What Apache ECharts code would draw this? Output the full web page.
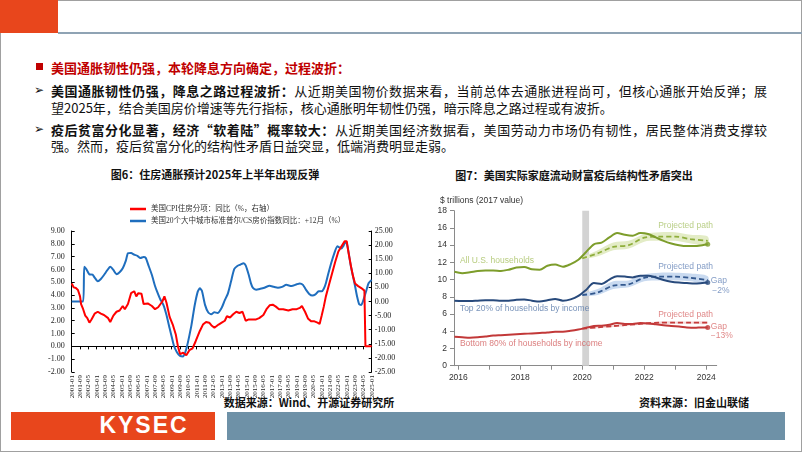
<!DOCTYPE html>
<html><head><meta charset="utf-8">
<script src="https://cdn.jsdelivr.net/npm/echarts@6/dist/echarts.min.js"></script>
<style>
body{margin:0;width:802px;height:452px;overflow:hidden;background:#fff;position:relative;font-family:"Noto Sans CJK SC",sans-serif;}
.a{position:absolute;}
#frame{left:0;top:0;width:800px;height:450px;border:1px solid #a0a0a0;}
#hdr{left:0;top:0;width:58px;height:33px;background:#E8461C;}
#hline{left:58px;top:32px;width:744px;height:2px;background:#8FA3B4;}
#sq{left:36px;top:63px;width:7px;height:7px;background:#C00000;}
.t{position:absolute;font-size:13px;line-height:17px;white-space:nowrap;color:#111;}
.j{width:716px;text-align:justify;text-align-last:justify;}
b{font-weight:700;}
.ar{position:absolute;font-size:12px;line-height:17px;left:34px;color:#111;font-family:"DejaVu Sans",sans-serif;}
.ttl{position:absolute;font-size:11px;font-weight:700;line-height:14px;white-space:nowrap;transform:translate(-50%,-50%);color:#111;}
#chart{position:absolute;left:0;top:0;width:802px;height:452px;}
</style></head>
<body>
<div id="frame" class="a"></div>
<div id="hdr" class="a"></div>
<div id="hline" class="a"></div>
<div id="sq" class="a"></div>
<div class="t" style="left:51px;top:58.5px;color:#C00000;font-weight:700;">美国通胀韧性仍强，本轮降息方向确定，过程波折：</div>
<div class="ar" style="top:81.5px;">➢</div>
<div class="t j" style="left:51px;top:81.5px;"><b>美国通胀韧性仍强，降息之路过程波折：</b>从近期美国物价数据来看，当前总体去通胀进程尚可，但核心通胀开始反弹；展</div>
<div class="t" style="left:51px;top:98.5px;">望2025年，结合美国房价增速等先行指标，核心通胀明年韧性仍强，暗示降息之路过程或有波折。</div>
<div class="ar" style="top:120.5px;">➢</div>
<div class="t j" style="left:51px;top:120.5px;"><b>疫后贫富分化显著，经济“软着陆”概率较大：</b>从近期美国经济数据看，美国劳动力市场仍有韧性，居民整体消费支撑较</div>
<div class="t" style="left:51px;top:136.5px;">强。然而，疫后贫富分化的结构性矛盾日益突显，低端消费明显走弱。</div>
<div class="ttl" style="left:215px;top:174px;">图6：住房通胀预计2025年上半年出现反弹</div>
<div class="ttl" style="left:574px;top:175px;">图7：美国实际家庭流动财富疫后结构性矛盾突出</div>
<div class="ttl" style="left:309px;top:402px;">数据来源：Wind、开源证券研究所</div>
<div class="ttl" style="left:694px;top:402px;">资料来源：旧金山联储</div>
<div class="a" style="left:11px;top:412px;width:204px;height:28px;background:#E8461C;"></div>
<div class="a" style="left:227px;top:412px;width:558px;height:28px;background:#6E91A7;"></div>
<div class="a" style="left:88px;top:412px;width:112px;height:28px;line-height:28px;color:#fff;font:bold 23px 'Liberation Sans',sans-serif;letter-spacing:2px;text-align:center;">KYSEC</div>
<div id="chart"></div>
<script>
// ---------- Figure 6 data ----------
const fig6TickLabels = ['2001-01','2001-09','2002-05','2003-01','2003-09','2004-05','2005-01','2005-09','2006-05','2007-01','2007-09','2008-05','2009-01','2009-09','2010-05','2011-01','2011-09','2012-05','2013-01','2013-09','2014-05','2015-01','2015-09','2016-05','2017-01','2017-09','2018-05','2019-01','2019-09','2020-05','2021-01','2021-09','2022-05','2023-01','2023-09','2024-05','2025-01'];
const cpiShelterDates = ['2001-01','2001-03','2001-05','2001-07','2001-09','2001-10','2001-12','2002-02','2002-04','2002-06','2002-08','2002-11','2003-02','2003-05','2003-08','2003-12','2004-02','2004-05','2004-08','2004-11','2005-02','2005-04','2005-07','2005-10','2006-01','2006-03','2006-05','2006-08','2006-10','2007-02','2007-06','2007-09','2007-12','2008-04','2008-06','2008-08','2008-11','2009-02','2009-05','2009-07','2009-09','2009-12','2010-03','2010-06','2010-09','2010-12','2011-04','2011-07','2011-10','2012-01','2012-03','2012-06','2012-10','2013-01','2013-04','2013-06','2013-09','2013-12','2014-03','2014-06','2014-09','2014-12','2015-03','2015-06','2015-10','2016-01','2016-05','2016-08','2016-11','2017-02','2017-05','2017-08','2017-12','2018-05','2018-09','2019-01','2019-04','2019-06','2019-09','2019-12','2020-03','2020-06','2020-09','2020-11','2021-01','2021-03','2021-05','2021-08','2021-11','2022-02','2022-05','2022-08','2022-11','2023-01','2023-03','2023-05','2023-07','2023-09','2023-12','2024-03','2024-06','2024-07','2025-01'];
const cpiShelterValues = [4.9,4.6,4.55,4.4,3.9,3.3,2.9,2.4,2.2,1.85,2.1,2.55,2.7,2.55,2.45,2.2,1.9,2.4,2.7,2.8,3.15,2.9,3.3,4.15,4.3,3.9,4.15,4.1,3.3,3.35,3.15,2.9,3.05,3.5,3.9,3.4,2.3,1.7,0.9,0.0,-0.6,-0.5,-0.7,-0.3,-0.15,0.4,1.2,1.7,1.9,1.85,1.65,1.45,1.7,1.85,2.0,2.35,2.25,2.5,2.7,2.6,2.7,2.0,2.1,2.1,2.1,2.2,2.45,2.9,3.2,3.25,3.1,2.9,2.9,2.8,2.9,2.9,3.0,3.15,2.7,2.15,1.95,1.95,1.85,1.75,2.4,3.1,3.9,4.8,5.7,6.6,7.4,7.8,8.2,8.2,7.2,6.3,5.5,4.9,4.7,4.55,4.35,0,0];
const csHomeDates = ['2001-01','2001-12','2002-01','2002-03','2002-06','2002-09','2002-11','2003-02','2003-05','2003-08','2003-11','2004-02','2004-05','2004-08','2004-11','2005-02','2005-05','2005-07','2005-10','2006-01','2006-04','2006-07','2006-10','2006-12','2007-03','2007-06','2007-09','2007-11','2008-02','2008-05','2008-08','2008-11','2009-01','2009-03','2009-06','2009-09','2009-12','2010-02','2010-04','2010-06','2010-08','2010-11','2011-02','2011-04','2011-06','2011-09','2011-12','2012-03','2012-06','2012-09','2013-01','2013-04','2013-07','2013-10','2014-01','2014-04','2014-07','2014-10','2014-12','2015-03','2015-05','2015-07','2015-10','2016-02','2016-06','2016-11','2017-03','2017-07','2017-11','2018-03','2018-08','2019-01','2019-04','2019-07','2019-10','2020-01','2020-04','2020-07','2020-10','2021-01','2021-03','2021-05','2021-07','2021-10','2022-01','2022-04','2022-06','2022-08','2022-10','2022-12','2023-01','2023-03','2023-05','2023-07','2023-09','2023-11','2024-01','2024-03','2024-05','2024-08','2024-10','2025-01'];
const csHomeValues = [0,0,12.3,11.5,9.6,9.5,8.5,7.2,8.0,9.4,11.0,12.3,11.2,9.7,10.4,11.8,14.5,17.1,17.2,16.6,16.2,15.4,15.8,15.5,12.5,9.4,5.5,3.5,0.8,-1.2,-4.8,-9.5,-12.5,-15.5,-18.0,-19.3,-19.5,-18.0,-15.4,-12.0,-8.3,-1.5,3.5,4.7,3.8,-1.2,-3.8,-4.5,-3.8,-4.1,-2.2,0.5,2.9,7.2,11.5,12.6,13.1,13.6,12.8,9.4,6.5,4.8,4.2,4.5,4.9,5.6,5.2,4.9,5.2,5.9,5.5,6.1,6.4,5.9,4.1,2.7,2.1,2.5,3.6,3.6,4.5,6.5,9.4,13.5,17.0,19.6,19.2,18.8,19.8,21.2,20.8,17.0,12.5,9.0,5.5,1.7,-1.0,-1.2,0.5,4.1,6.5,7.6];
const fig6Legend = ['美国CPI住房分项：同比（%，右轴）','美国20个大中城市标准普尔/CS房价指数同比：+12月（%）'];

// ---------- Figure 7 data ----------
const fig7LabelYears = [2016,2018,2020,2022,2024];
const fig7TickYears = [2016,2017,2018,2019,2020,2021,2022,2023,2024];
const wealthYears = [2015.875,2016.125,2016.375,2016.625,2016.875,2017.125,2017.375,2017.625,2017.875,2018.125,2018.375,2018.625,2018.875,2019.125,2019.375,2019.625,2019.875,2020.125,2020.375,2020.625,2020.875,2021.125,2021.375,2021.625,2021.875,2022.125,2022.375,2022.625,2022.875,2023.125,2023.375,2023.625,2023.875,2024.05];
const allActual = [10.9,10.75,10.85,11.0,11.05,11.05,11.0,11.15,11.4,11.45,11.2,11.15,11.6,11.75,11.5,11.8,12.3,13.2,14.1,14.3,14.9,15.4,15.2,15.1,15.4,15.3,14.9,14.5,14.2,14.0,13.9,13.9,14.0,14.1];
const topActual = [7.55,7.5,7.5,7.55,7.6,7.6,7.55,7.55,7.65,7.7,7.55,7.45,7.6,7.75,7.55,7.7,8.1,8.8,9.6,9.5,10.0,10.4,10.35,10.25,10.45,10.45,10.25,9.95,9.75,9.65,9.6,9.55,9.6,9.65];
const bottomActual = [3.35,3.3,3.25,3.3,3.4,3.5,3.55,3.6,3.65,3.7,3.75,3.8,3.85,3.95,3.95,4.05,4.2,4.4,4.6,4.65,4.75,4.95,4.85,4.85,4.95,4.9,4.8,4.7,4.6,4.55,4.45,4.4,4.45,4.45];
const projYears = [2020.0,2020.5,2021.0,2021.5,2022.0,2022.5,2023.0,2023.5,2024.05];
const allProj = [12.47,13.05,13.8,14.0,14.87,15.0,15.0,14.7,14.5];
const allLow  = [12.4,12.7,13.4,13.6,14.4,14.5,14.5,14.2,14.0];
const allHigh = [12.6,13.4,14.3,14.5,15.3,15.5,15.5,15.2,15.0];
const topProj = [8.2,8.5,9.3,9.45,10.2,10.35,10.35,10.2,9.95];
const topLow  = [8.1,8.2,8.9,9.1,9.8,9.9,9.9,9.8,9.5];
const topHigh = [8.3,8.9,9.8,9.9,10.6,10.8,10.8,10.7,10.4];
const botProj = [4.3,4.45,4.6,4.75,4.9,5.0,5.0,5.0,5.0];
const botLow  = [4.25,4.35,4.5,4.62,4.78,4.86,4.86,4.86,4.86];
const botHigh = [4.35,4.55,4.7,4.88,5.02,5.14,5.14,5.14,5.14];
const recession = [2020.0, 2020.22];

// ---------- helpers ----------
const monthIdx = d => { const p = d.split('-').map(Number); return (p[0]-2001)*12 + (p[1]-1); };
const pairs = (xs, ys) => xs.map((x,i)=>[x, ys[i]]);
const serif = "'Liberation Serif','Noto Sans CJK SC',serif";
const sans = "'Liberation Sans',sans-serif";

function band(low, high, color){
  return {type:'custom', xAxisIndex:1, yAxisIndex:2, silent:true, z:1,
    data:[[2022,10]], encode:{x:0,y:1},
    renderItem(params, api){
      const pts = [];
      projYears.forEach((x,i)=>pts.push(api.coord([x, high[i]])));
      for (let i=projYears.length-1;i>=0;i--) pts.push(api.coord([projYears[i], low[i]]));
      return {type:'polygon', shape:{points:pts, smooth:0.3}, style:{fill:color}};
    }};
}
function line(xs, ys, color, dashed, z){
  return {type:'line', xAxisIndex:1, yAxisIndex:2, data:pairs(xs, ys), symbol:'none', smooth:0.3, z:z,
    lineStyle:{color:color, width:dashed?1.8:2, type:dashed?[5,3]:'solid'}, silent:true};
}
const annotations = [
  {t:'Projected path', x:2022.45, y:16.26, c:'#a9c36a'},
  {t:'All U.S. households', x:2016.05, y:12.16, c:'#a5bf5e'},
  {t:'Projected path', x:2022.45, y:11.5, c:'#6585b8'},
  {t:'Gap', x:2024.15, y:9.84, c:'#6585b8'},
  {t:'\u22122%', x:2024.2, y:8.68, c:'#6585b8'},
  {t:'Top 20% of households by income', x:2016.05, y:6.67, c:'#5577a8'},
  {t:'Projected path', x:2022.45, y:5.97, c:'#d86a6a'},
  {t:'Gap', x:2024.15, y:4.53, c:'#d86a6a'},
  {t:'\u221213%', x:2024.15, y:3.45, c:'#d86a6a'},
  {t:'Bottom 80% of households by income', x:2016.05, y:2.52, c:'#d25c5c'}
];
const last = a => a[a.length-1];

const chart = echarts.init(document.getElementById('chart'), null, {renderer:'canvas'});
chart.setOption({
  animation:false,
  legend:{left:125, top:199.5, orient:'vertical', itemWidth:16, itemHeight:2.5, itemGap:3, icon:'rect',
    data:fig6Legend, textStyle:{fontSize:7.5, fontFamily:serif, color:'#333', lineHeight:9}},
  grid:[
    {left:71.7, right:430.3, top:231, bottom:80},
    {left:454, right:85.3, top:210.7, bottom:86.3}
  ],
  xAxis:[
    {type:'value', gridIndex:0, min:0, max:288, interval:8,
      axisLine:{onZero:true, onZeroAxisIndex:0, lineStyle:{color:'#000', width:1}},
      axisTick:{show:true, length:3, lineStyle:{color:'#000'}},
      splitLine:{show:false},
      axisLabel:{rotate:90, fontSize:7, fontFamily:serif, color:'#222', margin:3,
        formatter:v => fig6TickLabels[Math.round(v/8)] || ''}},
    {type:'value', gridIndex:1, min:2015.86, max:2024.34,
      axisLine:{onZero:false, lineStyle:{color:'#8a8a8a'}},
      axisTick:{show:true, length:4, customValues:fig7TickYears, lineStyle:{color:'#8a8a8a'}},
      splitLine:{show:false},
      axisLabel:{customValues:fig7LabelYears, fontSize:8.5, fontFamily:sans, color:'#333', margin:7, formatter:v=>String(v)}}
  ],
  yAxis:[
    {type:'value', gridIndex:0, min:-2, max:9, interval:1, position:'left',
      axisLine:{show:true, lineStyle:{color:'#000'}},
      axisTick:{show:true, inside:true, length:3, lineStyle:{color:'#000'}},
      splitLine:{show:false},
      axisLabel:{fontSize:8, fontFamily:serif, color:'#222', margin:7, formatter:v=>v.toFixed(2)}},
    {type:'value', gridIndex:0, min:-25, max:25, interval:5, position:'right',
      axisLine:{show:true, lineStyle:{color:'#000'}},
      axisTick:{show:true, inside:true, length:3, lineStyle:{color:'#000'}},
      splitLine:{show:false},
      axisLabel:{fontSize:8, fontFamily:serif, color:'#222', margin:3, formatter:v=>v.toFixed(2)}},
    {type:'value', gridIndex:1, min:0, max:18, interval:2,
      name:'$ trillions (2017 value)', nameLocation:'end', nameGap:6,
      nameTextStyle:{fontSize:8.5, fontFamily:sans, color:'#333', align:'left', padding:[0,0,0,-14]},
      axisLine:{show:true, lineStyle:{color:'#8a8a8a'}},
      axisTick:{show:true, length:4, lineStyle:{color:'#8a8a8a'}},
      splitLine:{show:false},
      axisLabel:{fontSize:8.5, fontFamily:sans, color:'#333', margin:7}}
  ],
  series:[
    {name:fig6Legend[0], type:'line', xAxisIndex:0, yAxisIndex:0, symbol:'none',
      data:pairs(cpiShelterDates.map(monthIdx), cpiShelterValues),
      lineStyle:{color:'#FF0000', width:2}, itemStyle:{color:'#FF0000'}, z:3},
    {name:fig6Legend[1], type:'line', xAxisIndex:0, yAxisIndex:1, symbol:'none', smooth:0.2,
      data:pairs(csHomeDates.map(monthIdx), csHomeValues),
      lineStyle:{color:'#1F6EBE', width:2}, itemStyle:{color:'#1F6EBE'}, z:2},
    // Figure 7
    {type:'line', xAxisIndex:1, yAxisIndex:2, data:[], silent:true, z:0,
      markArea:{silent:true, itemStyle:{color:'#d3d3d3'}, data:[[{xAxis:recession[0]},{xAxis:recession[1]}]]}},
    band(allLow, allHigh, '#e3ecc6'),
    band(topLow, topHigh, '#c9daf0'),
    band(botLow, botHigh, '#f5d8d8'),
    line(projYears, allProj, '#8fae3c', true, 3),
    line(projYears, topProj, '#34598f', true, 3),
    line(projYears, botProj, '#c63c3c', true, 3),
    line(wealthYears, allActual, '#7d9d2b', false, 4),
    line(wealthYears, topActual, '#284a7c', false, 4),
    line(wealthYears, bottomActual, '#c23838', false, 4),
    {type:'scatter', xAxisIndex:1, yAxisIndex:2, symbolSize:5, silent:true, z:5,
      data:[
        {value:[last(wealthYears), last(allActual)], itemStyle:{color:'#7d9d2b'}},
        {value:[last(wealthYears), last(topActual)], itemStyle:{color:'#284a7c'}},
        {value:[last(wealthYears), last(bottomActual)], itemStyle:{color:'#c23838'}}
      ]},
    {type:'scatter', xAxisIndex:1, yAxisIndex:2, symbolSize:0, silent:true, z:6,
      data:annotations.map(a=>({value:[a.x,a.y],
        label:{show:true, position:'right', distance:0, formatter:a.t, color:a.c, fontSize:8.5, fontFamily:sans}}))}
  ]
});
</script>
</body></html>
